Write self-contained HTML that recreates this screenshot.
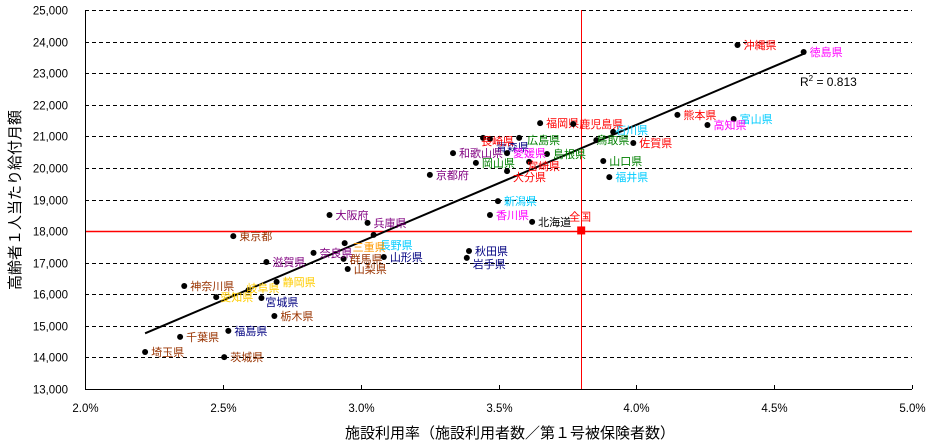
<!DOCTYPE html>
<html><head><meta charset="utf-8">
<style>
html,body{margin:0;padding:0;background:#fff;width:929px;height:444px;overflow:hidden;}
svg{display:block;font-family:"Liberation Sans","Noto Sans CJK JP",sans-serif;}
</style></head>
<body>
<svg id="chart" width="929" height="444" viewBox="0 0 929 444">
<g id="grid"></g>
<g id="axes"></g>
<g id="marks"></g>
<text x="800" y="86" font-size="12" fill="#000">R<tspan dy="-5" font-size="8">2</tspan><tspan dy="5"> = 0.813</tspan></text>
<text transform="translate(20,200) rotate(-90)" text-anchor="middle" font-size="15" fill="#000">高齢者１人当たり給付月額</text>
<text x="510" y="438" text-anchor="middle" font-size="15" fill="#000">施設利用率（施設利用者数／第１号被保険者数）</text>
</svg>
<script>
const names = ["北海道","青森県","岩手県","宮城県","秋田県","山形県","福島県","茨城県","栃木県","群馬県","埼玉県","千葉県","東京都","神奈川県","新潟県","富山県","石川県","福井県","山梨県","長野県","岐阜県","静岡県","愛知県","三重県","滋賀県","京都府","大阪府","兵庫県","奈良県","和歌山県","鳥取県","島根県","岡山県","広島県","山口県","徳島県","香川県","愛媛県","高知県","福岡県","佐賀県","長崎県","熊本県","大分県","宮崎県","鹿児島県","沖縄県"];
const rates = [3.622,3.469,3.385,2.640,3.393,3.084,2.520,2.505,2.687,2.938,2.218,2.345,2.538,2.360,3.498,4.353,3.916,3.902,2.953,3.047,2.593,2.695,2.476,2.942,2.658,3.251,2.887,3.025,2.829,3.335,3.855,3.676,3.418,3.575,3.880,4.607,3.469,3.531,4.258,3.651,3.989,3.444,4.149,3.531,3.611,3.771,4.367];
const amounts = [18290,20920,17150,15880,17370,17180,14840,14010,15310,17120,14170,14650,17840,16260,18950,21550,21140,19710,16800,17880,16130,16390,15910,17620,17020,19780,18510,18260,17310,20470,20880,20440,20160,20950,20220,23670,18510,20470,21360,21420,20790,20950,21680,19900,20190,21390,23890];
const colors = ["#000","#000080","#000080","#000080","#000080","#000080","#000080","#993300","#993300","#993300","#993300","#993300","#993300","#993300","#00CCFF","#00CCFF","#00CCFF","#00CCFF","#993300","#00CCFF","#FFCC00","#FFCC00","#FFCC00","#FF9900","#800080","#800080","#800080","#800080","#800080","#800080","#008000","#008000","#008000","#008000","#008000","#FF00FF","#FF00FF","#FF00FF","#FF00FF","#FF0000","#FF0000","#FF0000","#FF0000","#FF0000","#FF0000","#FF0000","#FF0000"];
const nationalRate = 3.8;
const nationalAmount = 18020;
const yTicks = [13000,14000,15000,16000,17000,18000,19000,20000,21000,22000,23000,24000,25000];
const xTicks = [2.0,2.5,3.0,3.5,4.0,4.5,5.0];

const X0=85,X1=912,Y0=389,Y1=10;
function sx(v){return X0+(v-2)/3*(X1-X0);}
function sy(v){return Y0-(v-13000)/12000*(Y0-Y1);}
const NS="http://www.w3.org/2000/svg";
function mk(tag,parent,attrs){const e=document.createElementNS(NS,tag);for(const k in attrs)e.setAttribute(k,attrs[k]);parent.appendChild(e);return e;}
const grid=document.getElementById('grid'),axes=document.getElementById('axes'),marks=document.getElementById('marks');

yTicks.forEach(t=>{
  const y=Math.round(sy(t))+0.5;
  if(t>13000 && t!==18000){
    const l=mk('line',grid,{x1:X0,x2:X1,y1:y,y2:y,stroke:'#000','stroke-width':1,'stroke-dasharray':'4,3'});
    
    
  }
  const tx=mk('text',axes,{x:68,y:y+4,'text-anchor':'end','font-size':11.5,fill:'#000'});
  tx.textContent=t.toLocaleString('en-US');
  
  
});
const hl=mk('line',grid,{x1:X0,x2:X1,y1:Math.round(sy(18000))+0.5,y2:Math.round(sy(18000))+0.5,stroke:'#FF0000','stroke-width':1.5});


const vl=mk('line',grid,{x1:Math.round(sx(nationalRate))+0.5,x2:Math.round(sx(nationalRate))+0.5,y1:Y1,y2:Y0,stroke:'#FF0000','stroke-width':1});



const ya=mk('line',axes,{x1:X0+0.5,x2:X0+0.5,y1:Y1,y2:Y0,stroke:'#000','stroke-width':1});


const xa=mk('line',axes,{x1:X0,x2:X1,y1:Y0+0.5,y2:Y0+0.5,stroke:'#000','stroke-width':1});


xTicks.forEach(t=>{
  const x=Math.round(sx(t))+0.5;
  mk('line',axes,{x1:x,x2:x,y1:Y0-4,y2:Y0,stroke:'#000'});
  const tx=mk('text',axes,{x:x,y:412,'text-anchor':'middle','font-size':11.5,fill:'#000'});
  tx.textContent=t.toFixed(1)+'%';
  
  
});

let n=rates.length,mx=0,my=0;
rates.forEach((r,i)=>{mx+=r;my+=amounts[i];});mx/=n;my/=n;
let sxy=0,sxx=0;rates.forEach((r,i)=>{sxy+=(r-mx)*(amounts[i]-my);sxx+=(r-mx)*(r-mx);});
const slope=sxy/sxx,icpt=my-slope*mx;
const xmin=Math.min(...rates),xmax=Math.max(...rates);
const tl=mk('line',marks,{x1:sx(xmin),y1:sy(icpt+slope*xmin),x2:sx(xmax),y2:sy(icpt+slope*xmax),stroke:'#000','stroke-width':2});



const offs={"長野県":[6,10],"青森県":[6,8],"長崎県":[-2,3],"広島県":[8,2],"石川県":[2,-2],"鳥取県":[0,0],"宮崎県":[-2,4],"大分県":[6,6],"岐阜県":[-2,-2],"愛知県":[4,0],"宮城県":[4,4],"岩手県":[6,6],"三重県":[8,4],"鹿児島県":[6,0]};
rates.forEach((r,i)=>{
  const cx=sx(r),cy=sy(amounts[i]);
  const c=mk('circle',marks,{cx:cx,cy:cy,r:3,fill:'#000'});
  
  
  const o=offs[names[i]]||[6,0];
  const t=mk('text',marks,{x:cx+o[0],y:cy+4+o[1],'font-size':11,fill:colors[i]});
  t.textContent=names[i];
  
  
});
const nx=sx(nationalRate),ny=sy(nationalAmount);
const sq=mk('rect',marks,{x:nx-4,y:ny-4,width:8,height:8,fill:'#FF0000'});


const nt=mk('text',marks,{x:nx-12,y:ny-10,'font-size':11,fill:'#FF0000'});
nt.textContent='全国';


</script>
</body></html>
